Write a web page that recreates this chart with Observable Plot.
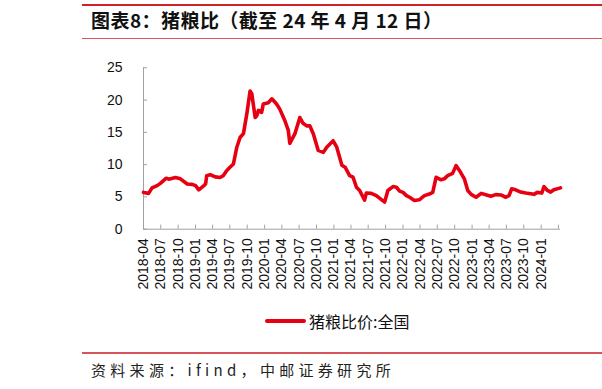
<!DOCTYPE html>
<html>
<head>
<meta charset="utf-8">
<script src="https://cdn.jsdelivr.net/npm/d3@7"></script>
<script src="https://cdn.jsdelivr.net/npm/@observablehq/plot@0.6"></script>
<style>
  html, body { margin: 0; padding: 0; background: #fff; }
  #wrap { position: relative; width: 602px; height: 389px; overflow: hidden; font-family: "Liberation Sans", Arial, sans-serif; }
  .abs { position: absolute; }
  #topline { left: 82px; top: 4px; width: 520px; height: 2px; background: #d0202a; }
  #title { left: 91px; top: 9px; font-family: "Noto Sans CJK SC", sans-serif; font-weight: bold; font-size: 19px; line-height: 22px; letter-spacing: 0.45px; color: #111; white-space: nowrap; }
  #midline { left: 82px; top: 38px; width: 520px; height: 1px; background: #d9555a; }
  #legend { left: 265px; top: 311px; height: 20px; display: flex; align-items: center; white-space: nowrap; }
  #legend .sw { width: 41px; height: 4px; background: #e60012; border-radius: 2px; margin-right: 3px; }
  #legend .tx { font-family: "Noto Sans CJK SC", sans-serif; font-size: 16px; line-height: 20px; color: #111; }
  #botline { left: 82px; top: 352px; width: 520px; height: 1.5px; background: #d9555a; }
  #source { left: 91px; top: 360px; font-family: "Noto Sans CJK SC", sans-serif; font-size: 15px; line-height: 20px; letter-spacing: 4.3px; color: #222; white-space: nowrap; }
  #chart { left: 0; top: 0; }
</style>
</head>
<body>
<div id="wrap">
  <div id="chart" class="abs"></div>
  <div id="topline" class="abs"></div>
  <div id="title" class="abs">图表8：猪粮比（截至 24 年 4 月 12 日）</div>
  <div id="midline" class="abs"></div>
  <div id="legend" class="abs"><div class="sw"></div><div class="tx">猪粮比价:全国</div></div>
  <div id="botline" class="abs"></div>
  <div id="source" class="abs">资料来源：ifind，中邮证券研究所</div>
</div>
<script>
const seriesName = "猪粮比价:全国";
const dates = [
  "2018-04-01","2018-04-28","2018-05-16","2018-06-12","2018-06-29","2018-07-30","2018-08-12","2018-09-17",
  "2018-10-13","2018-11-18","2018-12-14","2019-01-01","2019-01-18","2019-02-14","2019-02-23","2019-03-01",
  "2019-03-19","2019-04-15","2019-05-10","2019-05-28","2019-06-15","2019-07-02","2019-07-20","2019-08-07",
  "2019-08-24","2019-09-11","2019-09-29","2019-10-16","2019-10-25","2019-11-12","2019-11-21","2019-11-29",
  "2019-12-16","2019-12-25","2020-01-21","2020-02-08","2020-03-04","2020-03-21","2020-04-17","2020-05-05",
  "2020-05-13","2020-06-09","2020-07-05","2020-07-22","2020-08-10","2020-08-27","2020-09-14","2020-10-10",
  "2020-11-06","2020-11-24","2020-12-28","2021-01-16","2021-02-12","2021-03-01","2021-03-25","2021-04-12",
  "2021-04-30","2021-05-17","2021-06-12","2021-06-21","2021-07-17","2021-08-13","2021-09-26","2021-10-13",
  "2021-11-09","2021-11-27","2021-12-14","2022-01-01","2022-01-19","2022-02-05","2022-03-02","2022-03-28",
  "2022-04-24","2022-05-20","2022-06-07","2022-06-25","2022-07-21","2022-08-07","2022-08-25","2022-09-20",
  "2022-10-08","2022-10-26","2022-11-21","2022-12-09","2022-12-27","2023-01-22","2023-02-18","2023-03-14",
  "2023-04-10","2023-05-06","2023-06-02","2023-06-28","2023-07-15","2023-07-29","2023-08-19","2023-09-15",
  "2023-10-11","2023-11-07","2023-11-24","2023-12-11","2024-01-04","2024-01-16","2024-02-03","2024-02-20",
  "2024-03-08","2024-04-12"
];
const values = [
  5.7,5.55,6.4,6.75,7.1,7.9,7.75,8.0,
  7.8,7.0,6.95,6.75,6.1,6.75,7.0,8.3,
  8.45,8.1,8.0,8.3,9.1,9.6,10.1,12.7,
  14.2,14.8,17.9,21.4,21.0,17.3,17.6,18.4,
  18.1,19.4,19.6,20.2,19.4,18.6,16.8,15.3,
  13.3,14.8,17.3,16.4,16.0,16.0,14.8,12.2,
  11.9,12.7,13.7,12.7,9.9,9.6,8.3,8.05,
  6.5,6.0,4.5,5.6,5.55,5.2,4.2,6.0,
  6.6,6.5,5.9,5.7,5.2,4.95,4.45,4.55,
  5.2,5.45,5.7,8.05,7.65,7.8,8.3,8.65,
  9.85,9.1,7.8,6.0,5.4,4.95,5.55,5.35,
  5.1,5.35,5.3,4.95,5.2,6.25,6.1,5.75,
  5.6,5.5,5.4,5.7,5.6,6.6,6.0,5.75,
  6.1,6.4
];
const tickLabels = [
  "2018-04","2018-07","2018-10","2019-01","2019-04","2019-07","2019-10","2020-01",
  "2020-04","2020-07","2020-10","2021-01","2021-04","2021-07","2021-10","2022-01",
  "2022-04","2022-07","2022-10","2023-01","2023-04","2023-07","2023-10","2024-01"
];
const extraTick = "2024-04";
const yTicks = [0, 5, 10, 15, 20, 25];

const data = dates.map((d, i) => ({date: new Date(d), value: values[i]}));
const labelDates = tickLabels.map(s => new Date(s + "-01"));
const tickDates = [...tickLabels, extraTick].map(s => new Date(s + "-01"));
const xDomain = [new Date("2018-04-01"), new Date("2024-04-12")];
const gray = "#a0a0a0";
const fmt = d3.utcFormat("%Y-%m");

const chart = Plot.plot({
  width: 602,
  height: 389,
  marginLeft: 143,
  marginRight: 42,
  marginTop: 67.3,
  marginBottom: 160.3,
  style: {fontFamily: "'Liberation Sans', Arial, sans-serif", fontSize: "14px", color: "#111", background: "transparent"},
  x: {type: "utc", domain: xDomain, label: null},
  y: {domain: [0, 25], label: null},
  marks: [
    Plot.ruleY([0], {stroke: gray, strokeWidth: 1}),
    Plot.ruleX([xDomain[0]], {stroke: gray, strokeWidth: 1}),
    Plot.axisY(yTicks, {anchor: "left", tickSize: 4, dx: 4, tickFormat: () => "", stroke: gray, label: null}),
    Plot.axisY(yTicks, {anchor: "left", tickSize: 0, tickPadding: 21, fontSize: 14, fill: "#111", label: null}),
    Plot.axisX(tickDates, {anchor: "bottom", tickSize: 4, dy: -4, tickFormat: () => "", stroke: gray, label: null}),
    Plot.axisX(labelDates, {anchor: "bottom", tickSize: 0, tickPadding: 9, tickRotate: -90, tickFormat: fmt, fontSize: 14, fill: "#111", label: null}),
    Plot.line(data, {x: "date", y: "value", stroke: "#e60012", strokeWidth: 3.6, strokeLinejoin: "round", strokeLinecap: "round"})
  ]
});
document.getElementById("chart").appendChild(chart);
</script>
</body>
</html>
